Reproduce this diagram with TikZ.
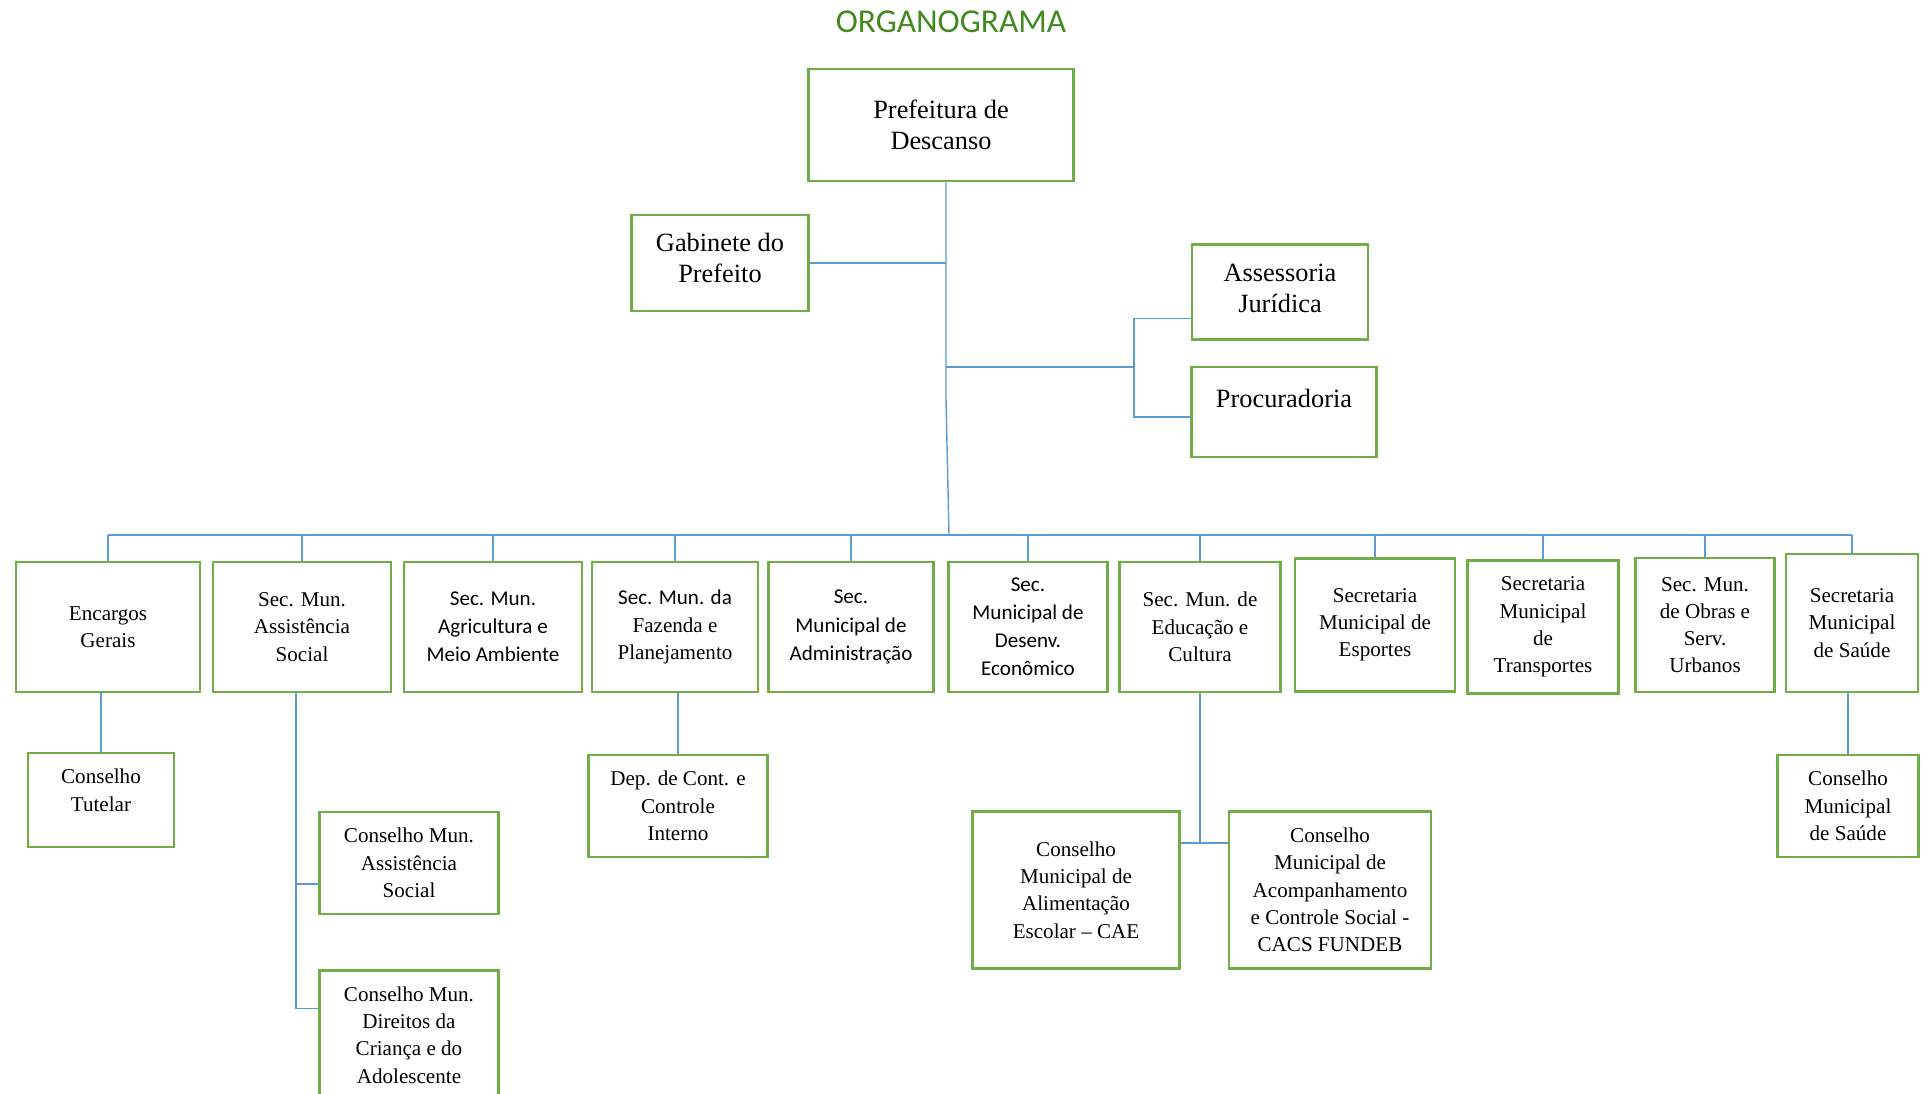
\documentclass[tikz,border=0pt]{standalone}
\usepackage{fontspec}
\setmainfont{Liberation Serif}
\newfontfamily\calibri{Carlito}
\usepackage{tikz}
\usetikzlibrary{positioning}
\definecolor{boxgreen}{RGB}{112,173,71}
\definecolor{titlegreen}{RGB}{66,138,32}
\definecolor{lineblue}{RGB}{91,155,213}

\begin{document}
\begin{tikzpicture}[x=0.02cm, y=-0.02cm,
        unit/.style={draw=boxgreen, line width=1.6pt, align=center, inner sep=2pt},
        big/.style={unit, font=\fontsize{15}{18}\selectfont},
        sec/.style={unit, font=\fontsize{12}{15.5}\selectfont},
        secsans/.style={unit, font=\calibri\fontsize{12}{16}\selectfont},
        link/.style={draw=lineblue, line width=0.8pt}]
            \useasboundingbox (0, 0) rectangle (1926, 1093);

            \node[font=\calibri\fontsize{19}{23}\selectfont, text=titlegreen] (title) at (951, 22) {ORGANOGRAMA};

            \node[big, minimum width=5.3cm, minimum height=2.24cm] (pref) at (941, 125) {Prefeitura de\\Descanso};
            \node[big, minimum width=3.54cm, minimum height=1.92cm, text depth=0.2cm] (gab) at (720, 263) {Gabinete do\\Prefeito};
            \node[big, minimum width=3.52cm, minimum height=1.9cm, text depth=0.15cm] (assjur) at (1280, 292) {Assessoria\\Jurídica};
            \node[big, minimum width=3.7cm, minimum height=1.8cm, text depth=0.55cm] (proc) at (1284, 412) {Procuradoria};

            % secretarias
            \node[sec, minimum width=3.68cm, minimum height=2.6cm] (enc) at (108, 627) {Encargos\\Gerais};
            \node[sec, minimum width=3.56cm, minimum height=2.6cm] (assoc) at (302, 627) {Sec. Mun.\\Assistência\\Social};
            \node[secsans, minimum width=3.56cm, minimum height=2.6cm] (agri) at (493, 627) {Sec. Mun.\\Agricultura e\\Meio Ambiente};
            \node[sec, minimum width=3.32cm, minimum height=2.6cm] (faz) at (675, 627) {{\calibri Sec. Mun. da}\\Fazenda e\\Planejamento};
            \node[secsans, minimum width=3.3cm, minimum height=2.6cm] (adm) at (851, 627) {Sec.\\Municipal de\\Administração};
            \node[secsans, minimum width=3.18cm, minimum height=2.6cm] (desenv) at (1028, 627) {Sec.\\Municipal de\\Desenv.\\Econômico};
            \node[sec, minimum width=3.22cm, minimum height=2.6cm] (educ) at (1200, 627) {Sec. Mun. de\\Educação e\\Cultura};
            \node[sec, minimum width=3.2cm, minimum height=2.66cm] (esp) at (1375, 625) {Secretaria\\Municipal de\\Esportes};
            \node[sec, minimum width=3.02cm, minimum height=2.66cm] (transp) at (1543, 627) {Secretaria\\Municipal\\de\\Transportes};
            \node[sec, minimum width=2.78cm, minimum height=2.68cm] (obras) at (1705, 625) {Sec. Mun.\\de Obras e\\Serv.\\Urbanos};
            \node[sec, minimum width=2.64cm, minimum height=2.76cm] (saude) at (1852, 623) {Secretaria\\Municipal\\de Saúde};

            % conselhos
            \node[sec, minimum width=2.92cm, minimum height=1.88cm, text depth=0.39cm] (tutelar) at (101, 800) {Conselho\\Tutelar};
            \node[sec, minimum width=3.58cm, minimum height=2.04cm] (cmas) at (409, 863) {Conselho Mun.\\Assistência\\Social};
            \node[sec, minimum width=3.58cm, minimum height=2.58cm] (cmdca) at (409, 1035) {Conselho Mun.\\Direitos da\\Criança e do\\Adolescente};
            \node[sec, minimum width=3.58cm, minimum height=2.04cm] (depcont) at (678, 806) {Dep. de Cont. e\\Controle\\Interno};
            \node[sec, minimum width=4.14cm, minimum height=3.14cm] (cae) at (1076, 890) {Conselho\\Municipal de\\Alimentação\\Escolar -- CAE};
            \node[sec, minimum width=4.04cm, minimum height=3.14cm] (cacs) at (1330, 890) {Conselho\\Municipal de\\Acompanhamento\\e Controle Social -\\CACS FUNDEB};
            \node[sec, minimum width=2.82cm, minimum height=2.04cm] (cms) at (1848, 806) {Conselho\\Municipal\\de Saúde};

            \coordinate (bend) at (946, 399);
            \coordinate (bus) at (949, 535);
            \coordinate (jr) at (1134, 367);
            \coordinate (edj) at (1200, 843);

            \draw[link] (pref.south -| bend) -- (bend) -- (bus);
            \draw[link] (gab.east) -- (gab.east -| bend);
            \draw[link] (bend |- jr) -- (jr);
            \draw[link] ([yshift=-0.53cm]assjur.west) -| (jr) |- ([yshift=-0.1cm]proc.west);

            \draw[link] (enc.north |- bus) -- (saude.north |- bus);
            \draw[link] (enc.north) -- (enc.north |- bus);
            \draw[link] (assoc.north) -- (assoc.north |- bus);
            \draw[link] (agri.north) -- (agri.north |- bus);
            \draw[link] (faz.north) -- (faz.north |- bus);
            \draw[link] (adm.north) -- (adm.north |- bus);
            \draw[link] (desenv.north) -- (desenv.north |- bus);
            \draw[link] (educ.north) -- (educ.north |- bus);
            \draw[link] (esp.north) -- (esp.north |- bus);
            \draw[link] (transp.north) -- (transp.north |- bus);
            \draw[link] (obras.north) -- (obras.north |- bus);
            \draw[link] (saude.north) -- (saude.north |- bus);

            \draw[link] (tutelar.north) -- (tutelar.north |- enc.south);
            \draw[link] ([xshift=-0.12cm]assoc.south) |- ([yshift=-0.42cm]cmas.west);
            \draw[link] ([xshift=-0.12cm]assoc.south) |- ([yshift=0.53cm]cmdca.west);
            \draw[link] (depcont.north) -- (depcont.north |- faz.south);
            \draw[link] (educ.south) -- (educ.south |- edj);
            \draw[link] (edj -| cae.east) -- (edj -| cacs.west);
            \draw[link] (cms.north) -- (cms.north |- saude.south);

        \end{tikzpicture}
\end{document}
